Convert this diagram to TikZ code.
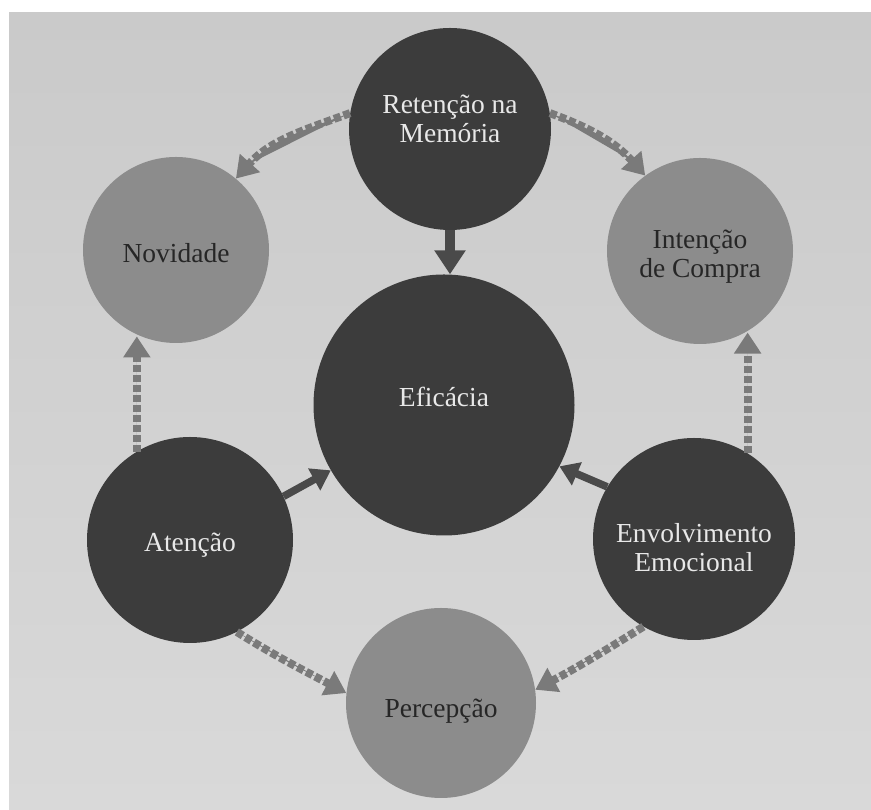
\documentclass[tikz,border=0pt]{standalone}
\usepackage{fontspec}
\setmainfont{Liberation Serif}
\usetikzlibrary{arrows.meta}
\definecolor{page}{HTML}{D3D3D3}
\definecolor{pagetop}{HTML}{CACACA}
\definecolor{pagebot}{HTML}{D9D9D9}
\definecolor{darkdisc}{HTML}{3C3C3C}
\definecolor{lightdisc}{HTML}{8C8C8C}
\definecolor{solidgray}{HTML}{4A4A4A}
\definecolor{dashgray}{HTML}{7A7A7A}
\definecolor{lighttext}{HTML}{E8E8E8}
\definecolor{darktext}{HTML}{262626}
\begin{document}
\begin{tikzpicture}[x=1pt,y=1pt,
  darkdiscstyle/.style={circle, fill=darkdisc, draw=none, inner sep=0pt},
  lightdiscstyle/.style={circle, fill=lightdisc, draw=none, inner sep=0pt},
  lbl/.style={font=\fontsize{27.5}{29}\selectfont, align=center, inner sep=0pt},
  onDark/.style={lbl, text=lighttext},
  onLight/.style={lbl, text=darktext},
  solidarrow/.style={draw=solidgray, fill=solidgray, line width=7.5pt,
    -{Triangle[width=24pt,length=19pt]}},
  solidbig/.style={draw=solidgray, fill=solidgray, line width=10pt,
    -{Triangle[width=30pt,length=24pt]}},
  dasharrow/.style={draw=dashgray, fill=dashgray, line width=8pt,
    dash pattern=on 7pt off 3pt,
    -{Triangle[width=26pt,length=21pt]}},
]
% page and margins
\fill[white] (0,0) rectangle (871,810);
\shade[top color=pagetop, bottom color=pagebot] (9,0) rectangle (871,797);
\useasboundingbox (0,0) rectangle (871,810);

% discs
\node[darkdiscstyle, minimum size=202pt] (ret) at (450,681) {};
\node[lightdiscstyle, minimum size=186pt] (nov) at (176,560) {};
\node[lightdiscstyle, minimum size=186pt] (int) at (700,559) {};
\node[darkdiscstyle, minimum size=261pt] (efi) at (444,405) {};
\node[darkdiscstyle, minimum size=206pt] (ate) at (190,270) {};
\node[darkdiscstyle, minimum size=202pt] (env) at (694,271) {};
\node[lightdiscstyle, minimum size=190pt] (per) at (441,107) {};

% labels
\node[onDark] (retlbl) at ([yshift=10pt]ret.center) {Retenção na\\Memória};
\node[onLight] (novlbl) at ([yshift=-3pt]nov.center) {Novidade};
\node[onLight] (intlbl) at ([yshift=-6pt]int.center) {Intenção\\de Compra};
\node[onDark] (efilbl) at ([yshift=8pt]efi.center) {Eficácia};
\node[onDark] (atelbl) at ([yshift=-5pt]ate.center) {Atenção};
\node[onDark] (envlbl) at ([yshift=-9pt]env.center) {Envolvimento\\Emocional};
\node[onLight] (perlbl) at ([yshift=-8pt]per.center) {Percepção};

% solid arrows into the centre
\draw[solidbig] (ret.south) -- (ret.south |- efi.north);
\draw[solidarrow] (ate.25) -- (efi.210);
\draw[solidarrow] (env.149) -- (efi.332);

% dashed arrows around the ring
\draw[dasharrow] (ret.171) to[out=200,in=48] (nov.50);
\draw[dasharrow] (ret.9) to[out=-20,in=132] (int.126);
\draw[dasharrow] (ate.121) -- (ate.121 |- nov.248);
\draw[dasharrow] (env.58) -- (env.58 |- int.299);
\draw[dasharrow] (ate.297) to[out=-32,in=152] (per.174);
\draw[dasharrow] (env.240) to[out=212,in=28] (per.8);
\end{tikzpicture}
\end{document}
